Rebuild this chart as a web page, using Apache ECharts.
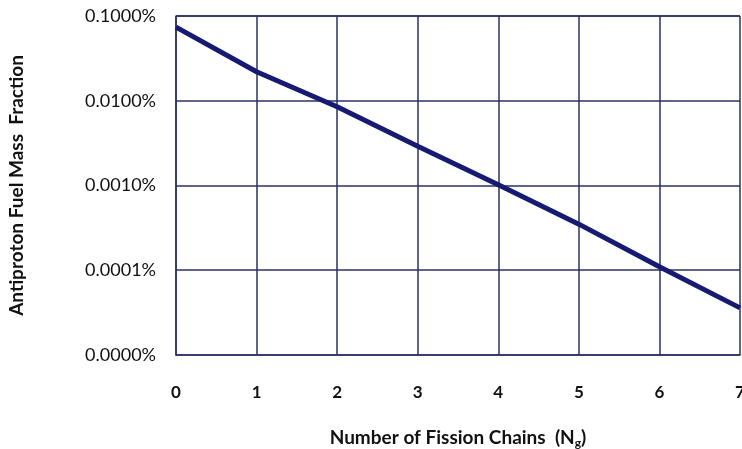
<!DOCTYPE html>
<html>
<head>
<meta charset="utf-8">
<script src="https://cdn.jsdelivr.net/npm/echarts@6/dist/echarts.min.js"></script>
<style>
  html, body { margin: 0; padding: 0; background: #ffffff; }
  #chart { width: 742px; height: 449px; }
</style>
</head>
<body>
<div id="chart"></div>
<script>
// Number of fission chains on the x axis
const chains = [0, 1, 2, 3, 4, 5, 6, 7];
// Antiproton fuel mass fraction, in percent
const massFractionPct = [0.074, 0.022, 0.0085, 0.0029, 0.00102, 0.00035, 0.00011, 0.000036];
// Axis ranges
const xTicks = { min: 0, max: 7, step: 1 };
const yRange = { min: 0.00001, max: 0.1 };

const gridColor = '#2a3262';
const lineColor = '#161a72';
const font = 'Lato, "Open Sans", sans-serif';

const chart = echarts.init(document.getElementById('chart'), null, { renderer: 'canvas' });

chart.setOption({
  backgroundColor: '#ffffff',
  animation: false,
  grid: { left: 176, right: 2, top: 16, bottom: 94, containLabel: false, outerBoundsMode: 'none' },
  xAxis: {
    type: 'value',
    min: xTicks.min,
    max: xTicks.max,
    interval: xTicks.step,
    axisLine: { show: true, lineStyle: { color: gridColor, width: 1.5 } },
    axisTick: { show: false },
    splitLine: { show: true, lineStyle: { color: gridColor, width: 1.5 } },
    axisLabel: {
      margin: 29,
      fontFamily: font,
      fontWeight: 'bold',
      fontSize: 17,
      color: '#111111'
    },
    name: '{t|Number of Fission Chains  (N}{s|g}{t|)}',
    nameLocation: 'middle',
    nameGap: 72,
    nameTextStyle: {
      rich: {
        t: { fontFamily: font, fontWeight: 'bold', fontSize: 19, color: '#111111' },
        s: { fontFamily: font, fontWeight: 'bold', fontSize: 12, color: '#111111', padding: [10, 0, 0, 0] }
      }
    }
  },
  yAxis: {
    type: 'log',
    logBase: 10,
    min: yRange.min,
    max: yRange.max,
    axisLine: { show: true, lineStyle: { color: gridColor, width: 1.5 } },
    axisTick: { show: false },
    splitLine: { show: true, lineStyle: { color: gridColor, width: 1.5 } },
    axisLabel: {
      margin: 20,
      fontFamily: font,
      fontSize: 18,
      color: '#111111',
      formatter: v => Number(v).toFixed(4) + '%'
    },
    name: 'Antiproton Fuel Mass  Fraction',
    nameLocation: 'middle',
    nameGap: 150,
    nameRotate: 90,
    nameTextStyle: { fontFamily: font, fontWeight: 'bold', fontSize: 19, color: '#111111' }
  },
  series: [{
    type: 'line',
    data: chains.map((c, i) => [c, massFractionPct[i]]),
    showSymbol: false,
    lineStyle: { color: lineColor, width: 5 },
    z: 5
  }]
});
</script>
</body>
</html>
